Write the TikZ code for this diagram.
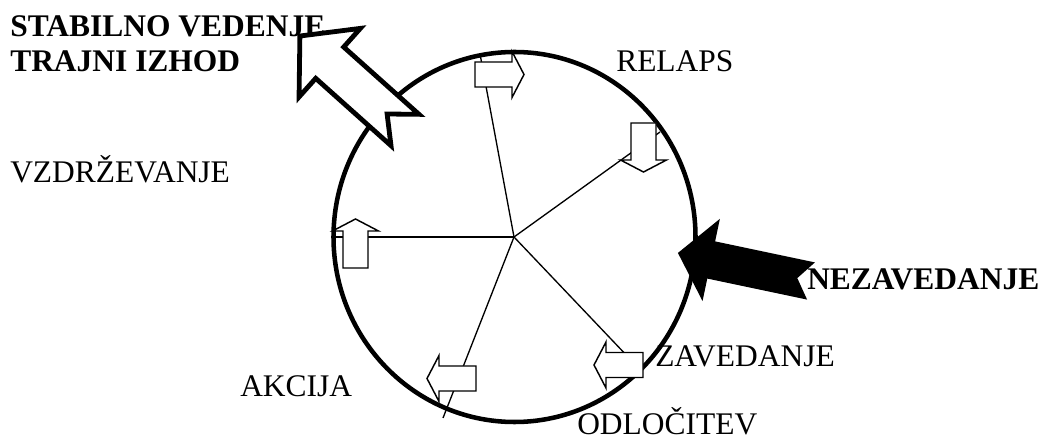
\documentclass[tikz,border=0pt]{standalone}
\usepackage{fontspec}
\setmainfont{Liberation Serif}
\begin{document}
\begin{tikzpicture}[x=0.75pt,y=-0.75pt,
  lbl/.style={anchor=base west, inner sep=0pt, font=\fontsize{23.6}{26.25}\selectfont},
  blbl/.style={anchor=base west, inner sep=0pt, align=left, font=\fontsize{23.6}{26.25}\selectfont\bfseries},
  ring/.style={line width=3.4pt},
  spoke/.style={line width=1pt},
  stagearrow/.style={draw, fill=white, line width=1.1pt, line join=miter},
  exitarrow/.style={draw, fill=white, line width=3.6pt, line join=miter},
  entryarrow/.style={fill=black},
]
\useasboundingbox (0,0) rectangle (1050,441);

% labels (a two-line node is anchored on its last baseline)
\node[blbl] (exit) at (10,72) {STABILNO VEDENJE\\TRAJNI IZHOD};
\node[lbl] (relaps) at (616,72) {RELAPS};
\node[lbl] (vzdr) at (10,183) {VZDRŽEVANJE};
\node[blbl] (nezav) at (807,290) {NEZAVEDANJE};
\node[lbl] (zav) at (655,367) {ZAVEDANJE};
\node[lbl] (akc) at (240,397) {AKCIJA};
\node[lbl] (odl) at (577,435) {ODLOČITEV};

% the cycle
\coordinate (c) at (514,237);
\draw[ring] (514.5,237) ellipse [x radius=181, y radius=185];

% spokes from the hub
\coordinate (s1) at (480,54);
\coordinate (s2) at (660,132);
\coordinate (s3) at (335,237);
\coordinate (s4) at (443,418);
\coordinate (s5) at (630,359);
\foreach \s in {s1,s2,s3,s4,s5} \draw[spoke] (c) -- (\s);

% small stage arrows: tail point and direction
\foreach \px/\py/\ang in {475/74.5/0, 643.5/123/-90, 355.5/268/90, 476/378.5/180, 643/365/180}{
  \begin{scope}[shift={(\px,\py)}, rotate=\ang]
    \draw[stagearrow] (0,-12.5) -- (37,-12.5) -- (37,-23) -- (49,0) -- (37,23) -- (37,12.5) -- (0,12.5) -- cycle;
  \end{scope}
}

% exit arrow (hollow, notched)
\begin{scope}[shift={(405,130)}, rotate=138.2]
  \draw[exitarrow] (0,-21) -- (101,-21) -- (101,-46) -- (141,0) -- (101,46) -- (101,21) -- (0,21) -- (24,0) -- cycle;
\end{scope}

% entry arrow (solid, notched)
\begin{scope}[shift={(811,281)}, rotate=168.1]
  \fill[entryarrow] (0,-19) -- (102,-19) -- (102,-42) -- (136,0) -- (102,42) -- (102,19) -- (0,19) -- (14,0) -- cycle;
\end{scope}
\end{tikzpicture}
\end{document}
